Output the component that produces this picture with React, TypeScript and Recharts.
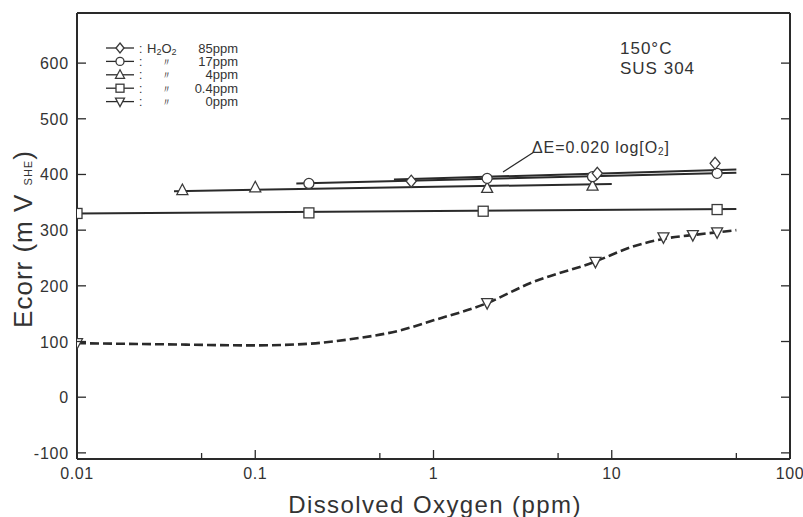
import { ComposedChart, Line, Scatter, XAxis, YAxis } from 'recharts';

// axis ticks
const xTicks = [0.01, 0.05, 0.1, 0.5, 1, 5, 10, 50, 100];
const xMajor = [0.01, 0.1, 1, 10, 100];
const xMajorLabels = ['0.01', '0.1', '1', '10', '100'];
const yTicks = [-100, 0, 100, 200, 300, 400, 500, 600];

// measured points (dissolved O2 ppm, Ecorr mV)
const ppm85Pts = [
  { x: 0.75, y: 388 },
  { x: 8.3, y: 402 },
  { x: 38, y: 420 },
];
const ppm17Pts = [
  { x: 0.2, y: 384 },
  { x: 2.0, y: 393 },
  { x: 7.8, y: 396 },
  { x: 39, y: 402 },
];
const ppm4Pts = [
  { x: 0.039, y: 372 },
  { x: 0.1, y: 377 },
  { x: 2.0, y: 376 },
  { x: 7.8, y: 380 },
];
const ppm04Pts = [
  { x: 0.01, y: 330 },
  { x: 0.2, y: 331 },
  { x: 1.9, y: 334 },
  { x: 39, y: 337 },
];
const ppm0Pts = [
  { x: 0.01, y: 97 },
  { x: 2.0, y: 169 },
  { x: 8.1, y: 243 },
  { x: 19.5, y: 287 },
  { x: 28.5, y: 291 },
  { x: 39, y: 296 },
];

// fitted lines as drawn in the figure
const ppm85Fit = [
  { x: 0.6, y: 391 },
  { x: 50, y: 409 },
];
const ppm17Fit = [
  { x: 0.17, y: 384 },
  { x: 50, y: 403 },
];
const ppm4Fit = [
  { x: 0.035, y: 370 },
  { x: 10, y: 383 },
];
const ppm04Fit = [
  { x: 0.01, y: 330 },
  { x: 50, y: 338 },
];
const ppm0Curve = [
  { x: 0.01, y: 97 },
  { x: 0.03, y: 95 },
  { x: 0.1, y: 93 },
  { x: 0.2, y: 96 },
  { x: 0.34, y: 104 },
  { x: 0.65, y: 120 },
  { x: 1, y: 138 },
  { x: 2, y: 169 },
  { x: 3.5, y: 205 },
  { x: 8, y: 243 },
  { x: 13, y: 270 },
  { x: 20, y: 285 },
  { x: 30, y: 292 },
  { x: 50, y: 300 },
];

const legendShapes = ['diamond', 'circle', 'up', 'square', 'down'];
const legendConc = ['85ppm', '17ppm', '4ppm', '0.4ppm', '0ppm'];

const INK = '#2a2a2a';
const TXT = '#333';
const FONT = '"Liberation Sans", Arial, sans-serif';

const Marker = ({ kind, cx, cy, s = 5 }: any) => {
  const st = { fill: '#fff', stroke: '#3a3a3a', strokeWidth: 1.3 };
  switch (kind) {
    case 'diamond':
      return <polygon points={`${cx},${cy - s - 1} ${cx + s},${cy} ${cx},${cy + s + 1} ${cx - s},${cy}`} {...st} />;
    case 'circle':
      return <circle cx={cx} cy={cy} r={s} {...st} />;
    case 'up':
      return <polygon points={`${cx},${cy - s - 1} ${cx + s + 0.5},${cy + s - 0.5} ${cx - s - 0.5},${cy + s - 0.5}`} {...st} />;
    case 'square':
      return <rect x={cx - s} y={cy - s} width={2 * s} height={2 * s} {...st} />;
    default:
      return <polygon points={`${cx - s - 0.5},${cy - s + 0.5} ${cx + s + 0.5},${cy - s + 0.5} ${cx},${cy + s + 1}`} {...st} />;
  }
};

const shapeOf = (kind: string) => (p: any) => <Marker kind={kind} cx={p.cx} cy={p.cy} />;

const BottomTick = ({ x, y, payload }: any) => {
  const i = xMajor.indexOf(payload.value);
  const len = i >= 0 ? 9 : 6;
  return (
    <g>
      <line x1={x} x2={x} y1={y} y2={y - len} stroke={INK} strokeWidth={1.3} />
      {i >= 0 && (
        <text x={x} y={y + 20} textAnchor="middle" fontSize={16} letterSpacing={0.6} fill={TXT} fontFamily={FONT}>
          {xMajorLabels[i]}
        </text>
      )}
    </g>
  );
};

const TopTick = ({ x, y, payload }: any) => {
  const len = xMajor.includes(payload.value) ? 9 : 6;
  return <line x1={x} x2={x} y1={y} y2={y + len} stroke={INK} strokeWidth={1.3} />;
};

const LeftTick = ({ x, y, payload }: any) => (
  <g>
    <line x1={x} x2={x + 9} y1={y} y2={y} stroke={INK} strokeWidth={1.3} />
    <text x={x - 8} y={y + 6} textAnchor="end" fontSize={16} letterSpacing={0.8} fill={TXT} fontFamily={FONT}>
      {payload.value}
    </text>
  </g>
);

const RightTick = ({ x, y }: any) => (
  <line x1={x} x2={x - 9} y1={y} y2={y} stroke={INK} strokeWidth={1.3} />
);

const axisLine = { stroke: INK, strokeWidth: 2 };

export default function App() {
  return (
    <div style={{ position: 'absolute', left: 0, top: 0, width: 803, height: 517, overflow: 'hidden', background: '#fff', fontFamily: FONT }}>
      <ComposedChart width={803} height={517} margin={{ top: 0, right: 0, bottom: 0, left: 0 }}>
        <XAxis
          xAxisId="b"
          type="number"
          dataKey="x"
          scale="log"
          domain={[0.01, 100]}
          allowDataOverflow
          ticks={xTicks}
          height={58}
          tickSize={0}
          tickMargin={0}
          tickLine={false}
          tick={<BottomTick />}
          axisLine={axisLine}
          interval={0}
        />
        <XAxis
          xAxisId="t"
          orientation="top"
          type="number"
          scale="log"
          domain={[0.01, 100]}
          allowDataOverflow
          ticks={xTicks}
          height={13}
          tickSize={0}
          tickMargin={0}
          tickLine={false}
          tick={<TopTick />}
          axisLine={axisLine}
          interval={0}
        />
        <YAxis
          yAxisId="l"
          type="number"
          dataKey="y"
          domain={[-111, 690]}
          allowDataOverflow
          ticks={yTicks}
          width={77}
          tickSize={0}
          tickMargin={0}
          tickLine={false}
          tick={<LeftTick />}
          axisLine={axisLine}
          interval={0}
        />
        <YAxis
          yAxisId="r"
          orientation="right"
          type="number"
          domain={[-111, 690]}
          allowDataOverflow
          ticks={yTicks}
          width={13}
          tickSize={0}
          tickMargin={0}
          tickLine={false}
          tick={<RightTick />}
          axisLine={axisLine}
          interval={0}
        />

        <Line xAxisId="b" yAxisId="l" data={ppm04Fit} dataKey="y" stroke={INK} strokeWidth={2} dot={false} isAnimationActive={false} />
        <Line xAxisId="b" yAxisId="l" data={ppm4Fit} dataKey="y" stroke={INK} strokeWidth={2} dot={false} isAnimationActive={false} />
        <Line xAxisId="b" yAxisId="l" data={ppm17Fit} dataKey="y" stroke={INK} strokeWidth={2} dot={false} isAnimationActive={false} />
        <Line xAxisId="b" yAxisId="l" data={ppm85Fit} dataKey="y" stroke={INK} strokeWidth={2} dot={false} isAnimationActive={false} />
        <Line
          xAxisId="b"
          yAxisId="l"
          data={ppm0Curve}
          dataKey="y"
          type="monotone"
          stroke={INK}
          strokeWidth={2.6}
          strokeDasharray="9 4"
          dot={false}
          isAnimationActive={false}
        />

        <Scatter xAxisId="b" yAxisId="l" data={ppm04Pts} shape={shapeOf('square')} isAnimationActive={false} />
        <Scatter xAxisId="b" yAxisId="l" data={ppm0Pts} shape={shapeOf('down')} isAnimationActive={false} />
        <Scatter xAxisId="b" yAxisId="l" data={ppm4Pts} shape={shapeOf('up')} isAnimationActive={false} />
        <Scatter xAxisId="b" yAxisId="l" data={ppm17Pts} shape={shapeOf('circle')} isAnimationActive={false} />
        <Scatter xAxisId="b" yAxisId="l" data={ppm85Pts} shape={shapeOf('diamond')} isAnimationActive={false} />
      </ComposedChart>

      <svg width={803} height={517} style={{ position: 'absolute', left: 0, top: 0, pointerEvents: 'none' }}>
        {/* legend */}
        {legendShapes.map((k, i) => {
          const cy = 48 + i * 13.4;
          return (
            <g key={k}>
              <line x1={106} x2={134} y1={cy} y2={cy} stroke={INK} strokeWidth={1.3} />
              <Marker kind={k} cx={120} cy={cy} s={4} />
              <text x={139} y={cy + 4.5} fontSize={12} fill={TXT} fontFamily={FONT}>:</text>
              {i === 0 ? (
                <text x={147} y={cy + 4.5} fontSize={13} fill={TXT} fontFamily={FONT}>
                  H<tspan fontSize={9} dy={2}>2</tspan>
                  <tspan dy={-2}>O</tspan>
                  <tspan fontSize={9} dy={2}>2</tspan>
                </text>
              ) : (
                <text x={166} y={cy + 4.5} textAnchor="middle" fontSize={11} fill={TXT} fontFamily={FONT}>〃</text>
              )}
              <text x={238} y={cy + 4.5} textAnchor="end" fontSize={13} fill={TXT} fontFamily={FONT}>
                {legendConc[i]}
              </text>
            </g>
          );
        })}

        <text x={620} y={54} fontSize={17} letterSpacing={1} fill={TXT} fontFamily={FONT}>150°C</text>
        <text x={620} y={74} fontSize={17} letterSpacing={1} fill={TXT} fontFamily={FONT}>SUS 304</text>

        <line x1={534} y1={152} x2={503} y2={172} stroke={INK} strokeWidth={1.2} />
        <text x={532} y={153} fontSize={16} letterSpacing={0.9} fill={TXT} fontFamily={FONT}>
          ΔE=0.020 log[O<tspan fontSize={10} dy={2}>2</tspan><tspan dy={-2}>]</tspan>
        </text>

        <text
          transform="translate(32,239) rotate(-90)"
          textAnchor="middle"
          fontSize={26}
          letterSpacing={1}
          fill={TXT}
          fontFamily={FONT}
        >
          Ecorr (m V <tspan fontSize={11}>SHE</tspan>)
        </text>
        <text x={435} y={513} textAnchor="middle" fontSize={24} letterSpacing={1.4} fill={TXT} fontFamily={FONT}>
          Dissolved Oxygen (ppm)
        </text>
      </svg>
    </div>
  );
}
